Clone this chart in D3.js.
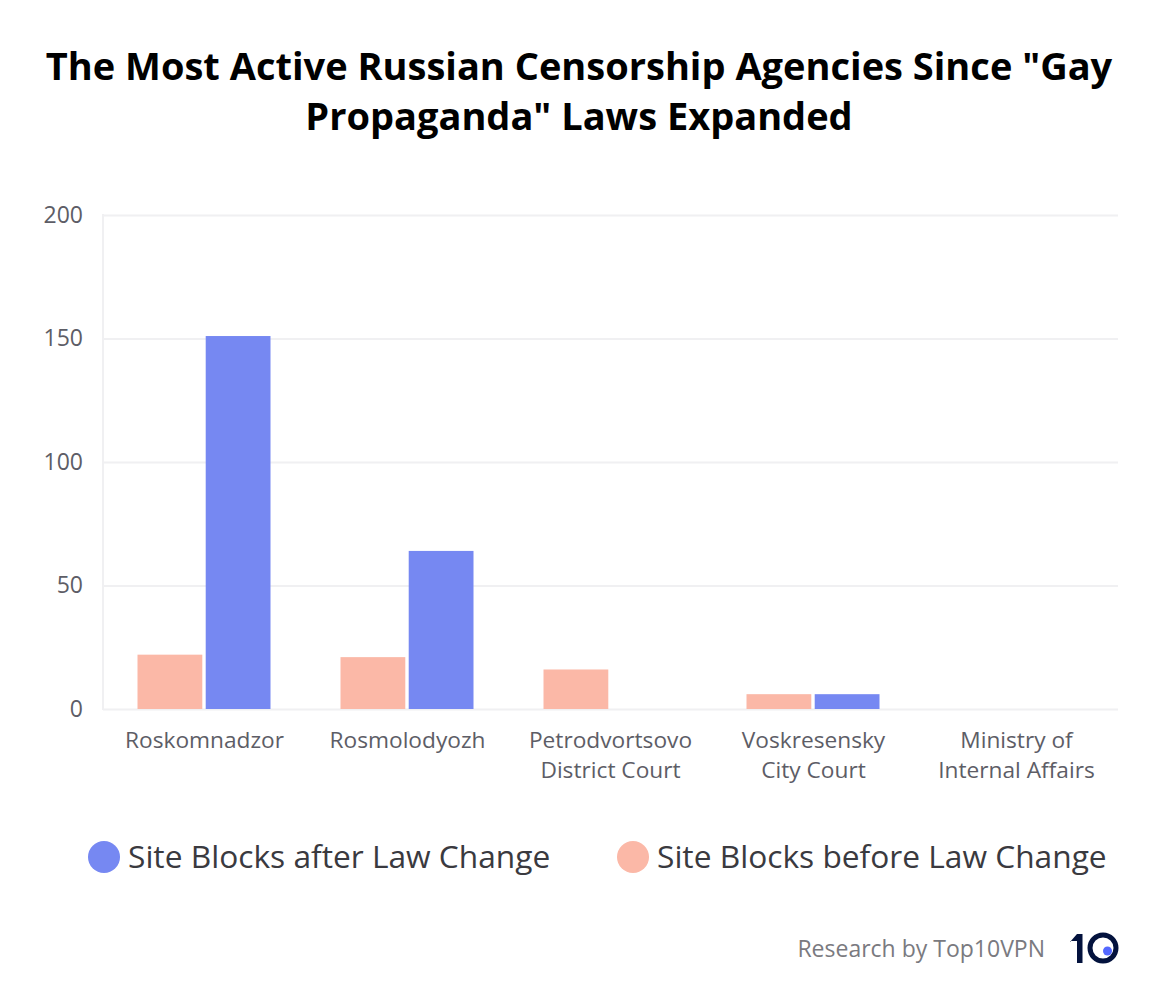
<!DOCTYPE html>
<html>
<head>
<meta charset="utf-8">
<script src="https://cdn.jsdelivr.net/npm/d3@7"></script>
<style>
    body { margin: 0; background: #fff; }
    text { font-family: "Open Sans", sans-serif; }
    .domain { display: none; }
</style>
</head>
<body>
<script>
const categories = [['Roskomnadzor'], ['Rosmolodyozh'], ['Petrodvortsovo', 'District Court'], ['Voskresensky', 'City Court'], ['Ministry of', 'Internal Affairs']];
const blocksBefore = [22, 21, 16, 6, 0];
const blocksAfter = [151, 64, 0, 6, 0];
const yTicks = [0, 50, 100, 150, 200];
const titleLines = ['The Most Active Russian Censorship Agencies Since "Gay', 'Propaganda" Laws Expanded'];
const seriesNames = ['Site Blocks before Law Change', 'Site Blocks after Law Change'];
const seriesColors = ['#fbb8a7', '#7688f2'];

const width = 1158, height = 988;
const plotLeft = 103, plotRight = 1118, plotTop = 215, plotBottom = 709;

const svg = d3.select('body').append('svg')
    .attr('width', width)
    .attr('height', height);

svg.append('g').selectAll('text')
    .data(titleLines)
    .enter().append('text')
    .attr('x', 579)
    .attr('y', (d, i) => 80 + i * 50)
    .attr('text-anchor', 'middle')
    .attr('font-size', 38)
    .attr('font-weight', 700)
    .attr('fill', '#000')
    .text(d => d);

const x = d3.scaleBand()
    .domain(d3.range(categories.length))
    .range([plotLeft, plotRight]);

const inner = d3.scaleBand()
    .domain(d3.range(seriesNames.length))
    .range([x.bandwidth() / 2 - 67, x.bandwidth() / 2 + 66])
    .paddingInner(0.05);

const y = d3.scaleLinear()
    .domain([0, 200])
    .range([plotBottom, plotTop]);

// grille
const yAxis = svg.append('g')
    .attr('transform', `translate(${plotLeft},0)`)
    .call(d3.axisLeft(y).tickValues(yTicks).tickSize(-(plotRight - plotLeft)).tickPadding(20));
yAxis.selectAll('line').attr('stroke', '#f0f0f2').attr('stroke-width', 2);
yAxis.selectAll('text')
    .attr('font-size', 23)
    .attr('fill', '#5d5d66');

svg.append('line')
    .attr('x1', plotLeft).attr('x2', plotLeft)
    .attr('y1', plotTop - 1).attr('y2', plotBottom + 1)
    .attr('stroke', '#f0f0f2')
    .attr('stroke-width', 2);

// barres
[blocksBefore, blocksAfter].forEach((values, s) => {
    svg.append('g').selectAll('rect')
        .data(values)
        .enter().append('rect')
        .attr('x', (d, i) => x(i) + inner(s))
        .attr('y', d => y(d))
        .attr('width', inner.bandwidth())
        .attr('height', d => plotBottom - y(d))
        .attr('fill', seriesColors[s]);
});

// etiquettes
const labels = svg.append('g').selectAll('text')
    .data(categories)
    .enter().append('text')
    .attr('text-anchor', 'middle')
    .attr('font-size', 22.7)
    .attr('fill', '#5d5d66');
labels.selectAll('tspan')
    .data((d, i) => d.map(line => ({line, i})))
    .enter().append('tspan')
    .attr('x', d => x(d.i) + x.bandwidth() / 2)
    .attr('y', (d, j) => 748 + j * 30)
    .text(d => d.line);

// legende
const legend = [
    {name: seriesNames[1], color: seriesColors[1], cx: 104, tx: 128},
    {name: seriesNames[0], color: seriesColors[0], cx: 633, tx: 657},
];
const legendItems = svg.append('g').selectAll('g')
    .data(legend)
    .enter().append('g');
legendItems.append('circle')
    .attr('cx', d => d.cx)
    .attr('cy', 857)
    .attr('r', 16)
    .attr('fill', d => d.color);
legendItems.append('text')
    .attr('x', d => d.tx)
    .attr('y', 868)
    .attr('font-size', 31.7)
    .attr('fill', '#3a3a3f')
    .text(d => d.name);

// source + logo
svg.append('text')
    .attr('x', 1045)
    .attr('y', 957)
    .attr('text-anchor', 'end')
    .attr('font-size', 23)
    .attr('fill', '#7a7a80')
    .text('Research by Top10VPN');

const logo = svg.append('g');
logo.append('path')
    .attr('d', 'M1070 942 L1077 934 L1082.5 934 L1082.5 963 L1077 963 L1077 941 L1070 941 Z')
    .attr('fill', '#03123d');
logo.append('circle')
    .attr('cx', 1103)
    .attr('cy', 948)
    .attr('r', 13)
    .attr('fill', 'none')
    .attr('stroke', '#03123d')
    .attr('stroke-width', 5);
logo.append('circle')
    .attr('cx', 1107.5)
    .attr('cy', 951)
    .attr('r', 4.5)
    .attr('fill', '#5468ff');
</script>
</body>
</html>
